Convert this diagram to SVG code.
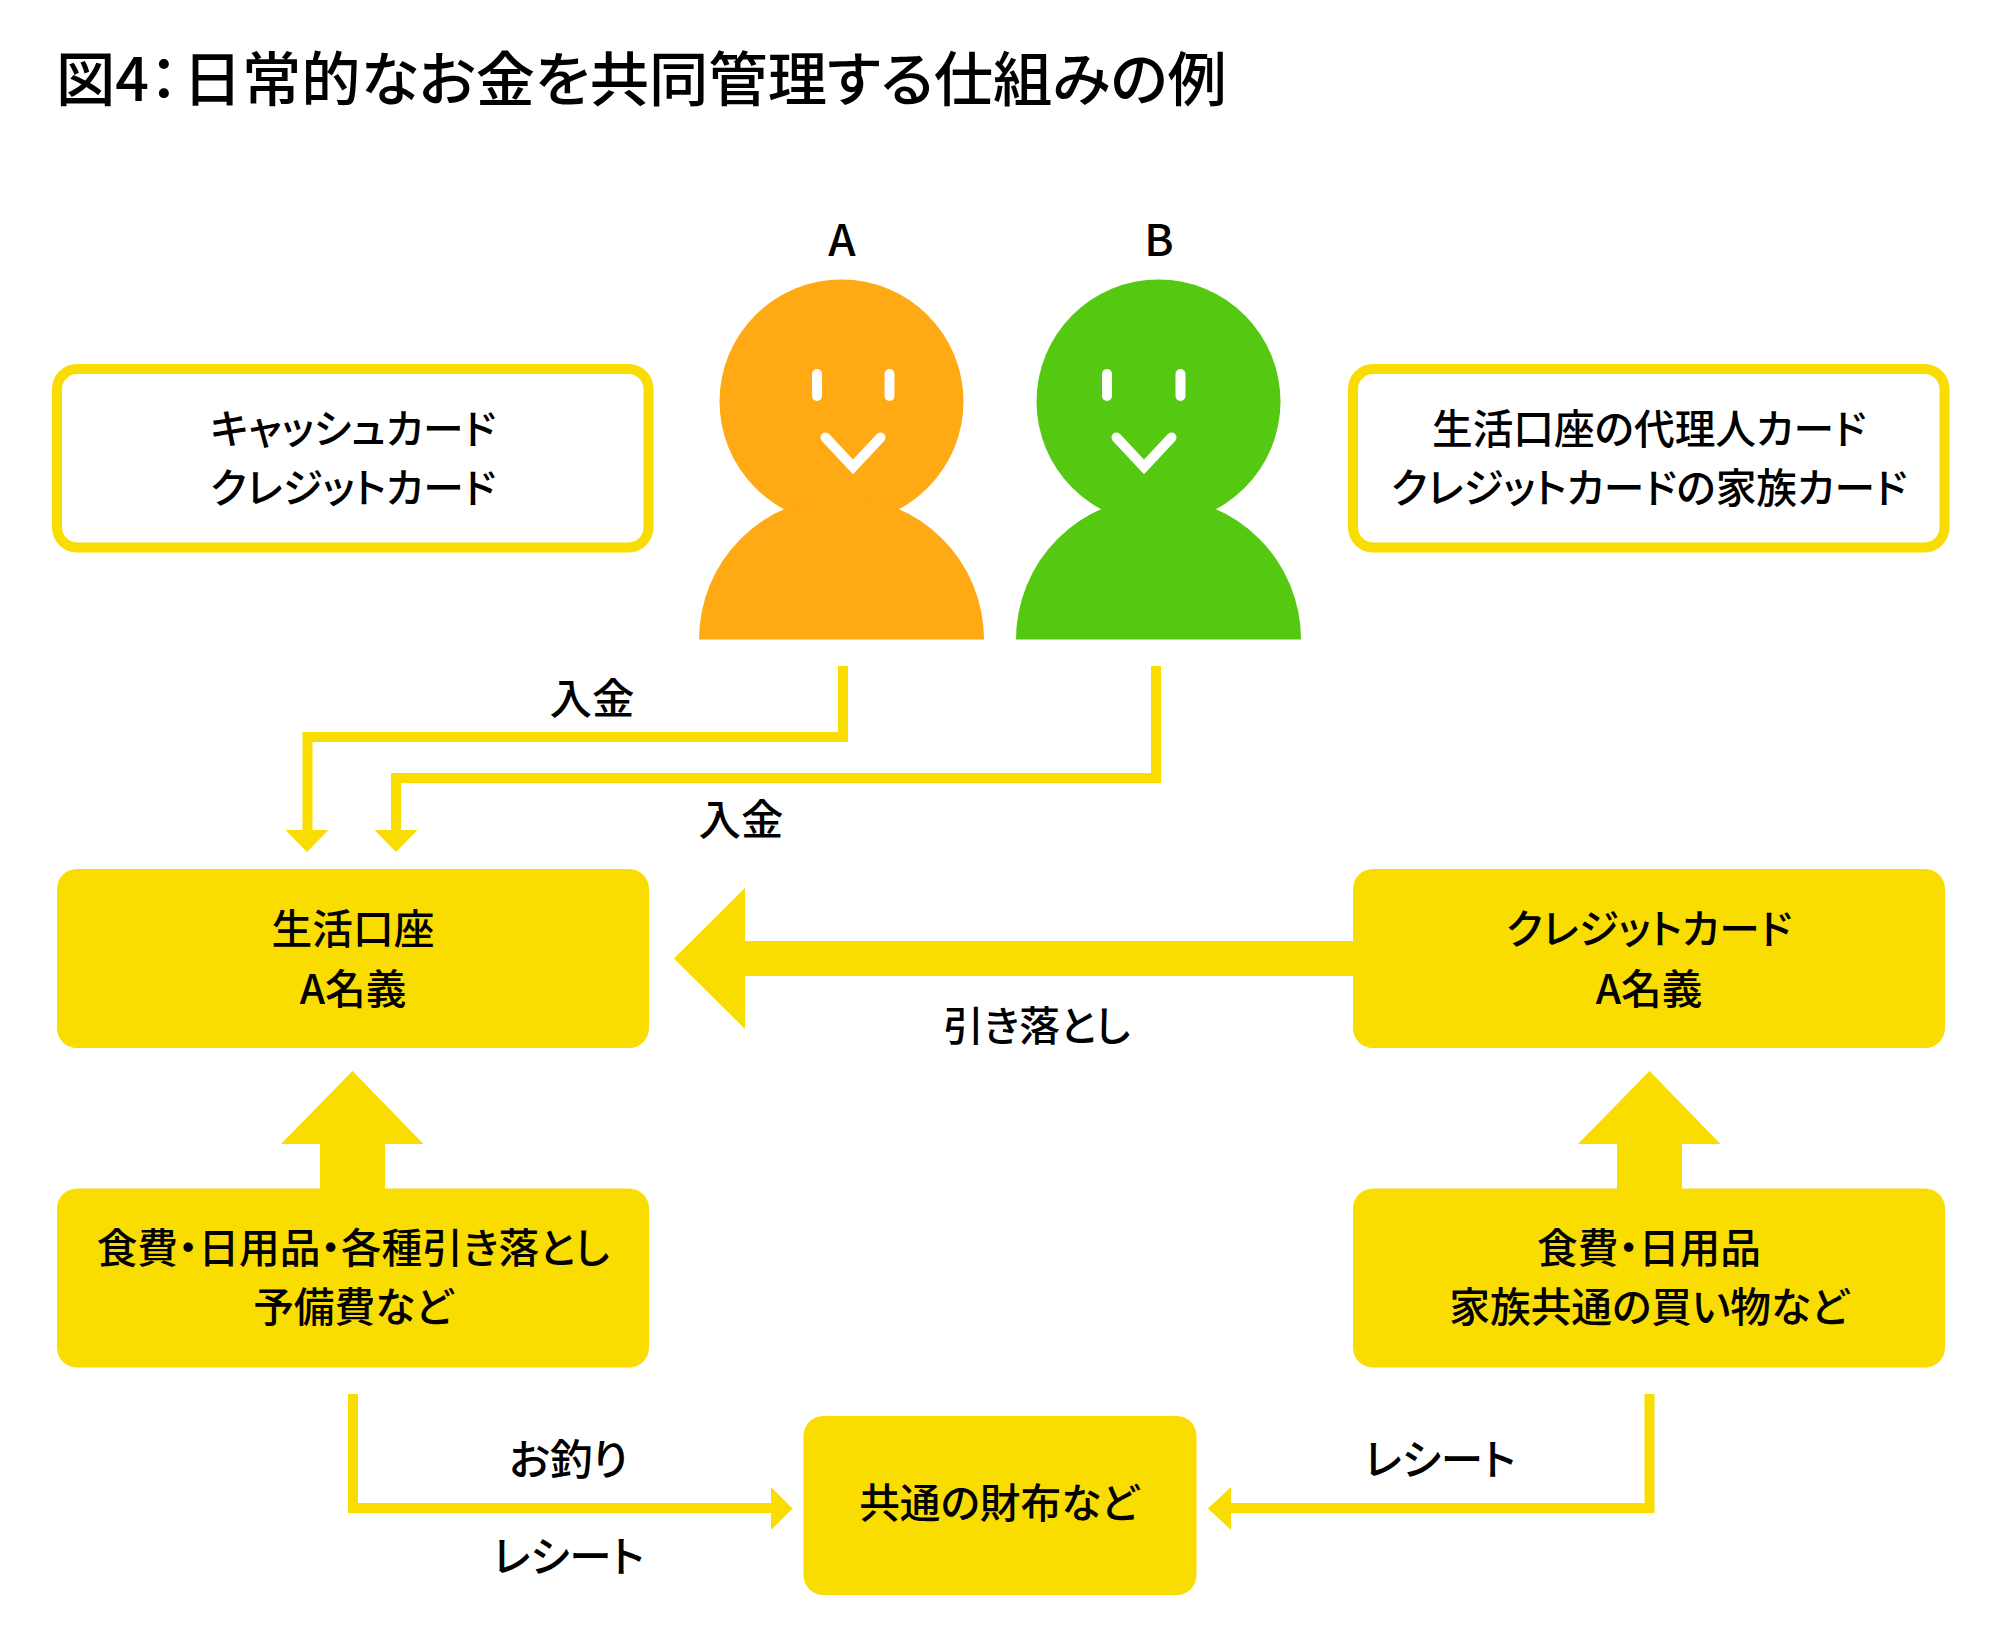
<svg xmlns="http://www.w3.org/2000/svg" width="2000" height="1650" viewBox="0 0 2000 1650">
<style>
text{font-family:"Noto Sans CJK JP","Noto Sans",sans-serif;font-weight:500;font-size:40.700px;fill:#000;text-anchor:middle;font-feature-settings:"palt"}
.title{font-size:59.300px;text-anchor:start}
.lab{font-size:44px}
.note{font-size:42.500px}
.box{fill:#f9dc00}
.out{fill:#fff;stroke:#f9dc00;stroke-width:10}
.line{fill:none;stroke:#f9dc00;stroke-width:10}
.arr{fill:#f9dc00}
.face{fill:#fff}
.mouth{fill:none;stroke:#fff;stroke-width:10;stroke-linecap:round;stroke-miterlimit:10}
.a{fill:#ffa914}
.b{fill:#55c812}
</style>
<rect width="2000" height="1650" fill="#fff"/>
<text id="title" class="title" x="56" y="101">図4：<tspan dx="4">日常的なお金を共同管理する仕組みの例</tspan></text>
<g id="personA">
<circle class="a" cx="841.500" cy="401.500" r="122"/>
<path class="a" d="M699 639.500A142.500 142.500 0 0 1 984 639.500Z"/>
<rect class="face" x="812" y="369" width="10" height="32" rx="5"/>
<rect class="face" x="884.500" y="369" width="10" height="32" rx="5"/>
<path class="mouth" d="M825.500 437.500L853 467L880.500 437.500"/>
<text class="lab" x="842" y="256">A</text>
</g>
<g id="personB">
<circle class="b" cx="1158.500" cy="401.500" r="122"/>
<path class="b" d="M1016 639.500A142.500 142.500 0 0 1 1301 639.500Z"/>
<rect class="face" x="1102" y="369" width="10" height="32" rx="5"/>
<rect class="face" x="1175.500" y="369" width="10" height="32" rx="5"/>
<path class="mouth" d="M1116.500 437.500L1144 467L1171.500 437.500"/>
<text class="lab" x="1159" y="256">B</text>
</g>
<g id="connectors">
<path class="line" d="M843 666V737H307.500V830"/>
<path class="arr" d="M285.500 830H328.500L307 852Z"/>
<path class="line" d="M1156 666V778H396V830"/>
<path class="arr" d="M374.500 830H417.500L396 852Z"/>
<path class="arr" d="M1353 941V976H745V1029L674 958.500L745 888V941Z"/>
<path class="arr" d="M320 1189V1144H281L352.500 1071L423.500 1144H385V1189Z"/>
<path class="arr" d="M1617 1189V1144H1578L1649.500 1071L1720.500 1144H1682V1189Z"/>
<path class="line" d="M353 1394V1508H771"/>
<path class="arr" d="M771 1487V1530L792.500 1508.500Z"/>
<path class="line" d="M1649.500 1394V1508H1231"/>
<path class="arr" d="M1231 1487V1530L1208 1508.500Z"/>
</g>
<g id="cards-a"><rect class="out" x="57" y="369" width="591.500" height="178.500" rx="20"/><text x="353" y="444">キャッシュカード</text><text x="353" y="503">クレジットカード</text></g>
<g id="cards-b"><rect class="out" x="1353" y="369" width="591.500" height="178.500" rx="20"/><text x="1649" y="444">生活口座の代理人カード</text><text x="1649" y="503">クレジットカードの家族カード</text></g>
<g id="account"><rect class="box" x="57" y="869" width="592" height="179" rx="20"/><text x="353" y="944">生活口座</text><text x="353" y="1003.500">A名義</text></g>
<g id="credit"><rect class="box" x="1353" y="869" width="592" height="179" rx="20"/><text x="1649" y="944">クレジットカード</text><text x="1649" y="1003.500">A名義</text></g>
<g id="expenses"><rect class="box" x="57" y="1188.500" width="592" height="179" rx="20"/><text x="353" y="1263">食費・日用品・各種引き落とし</text><text x="353" y="1322">予備費など</text></g>
<g id="shopping"><rect class="box" x="1353" y="1188.500" width="592" height="179" rx="20"/><text x="1649" y="1263">食費・日用品</text><text x="1649" y="1322">家族共通の買い物など</text></g>
<g id="wallet"><rect class="box" x="803.500" y="1416" width="393" height="179" rx="20"/><text x="999" y="1518">共通の財布など</text></g>
<g id="labels">
<text class="note" x="592" y="713.500">入金</text>
<text class="note" x="741" y="834.500">入金</text>
<text x="1036.500" y="1041">引き落とし</text>
<text class="note" x="568.500" y="1475">お釣り</text>
<text class="note" x="568.500" y="1572">レシート</text>
<text class="note" x="1440" y="1475">レシート</text>
</g>
</svg>
